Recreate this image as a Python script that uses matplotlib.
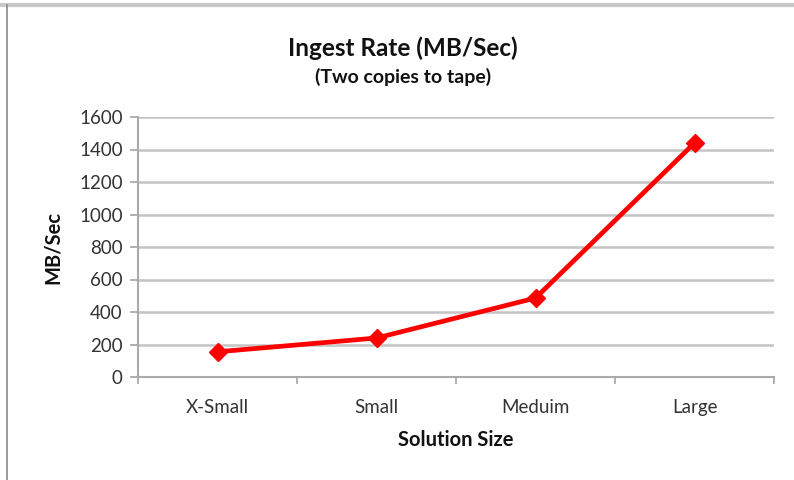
import matplotlib
matplotlib.use("Agg")
import matplotlib.pyplot as plt
from matplotlib.lines import Line2D

categories = ["X-Small", "Small", "Meduim", "Large"]
values = [155, 240, 486, 1440]
yticks = [0, 200, 400, 600, 800, 1000, 1200, 1400, 1600]

plt.rcParams['font.family'] = ['Lato', 'DejaVu Sans']

W, H = 794, 480
fig = plt.figure(figsize=(W / 100, H / 100), dpi=100)
ax = fig.add_axes([138 / W, 1 - 377 / H, (774 - 138) / W, (377 - 117) / H])

x = list(range(len(categories)))
ax.plot(x, values, color="#ff0000", lw=3.4, marker="D", markersize=9,
        markeredgecolor="#ff0000", markerfacecolor="#ff0000", zorder=3)

ax.set_xlim(-0.5, len(categories) - 0.5)
ax.set_ylim(0, 1600)
ax.set_yticks(yticks)
ax.set_yticklabels([str(v) for v in yticks])
ax.set_xticks(x)
ax.set_xticklabels(categories)
ax.tick_params(axis="x", length=0, pad=16, labelsize=13.5, labelcolor="#333333")
ax.tick_params(axis="y", length=6, width=1.3, color="#aaaaaa", pad=5,
               labelsize=13.5, labelcolor="#333333")
# boundary ticks on x axis
for b in [i - 0.5 for i in range(len(categories) + 1)]:
    ax.plot([b, b], [0, -1600 * 6 / 260], color="#aaaaaa", lw=1.3,
            clip_on=False, zorder=2)

ax.grid(axis="y", color="#c4c4c4", lw=1.8)
ax.set_axisbelow(True)
for s in ["top", "right"]:
    ax.spines[s].set_visible(False)
for s in ["left", "bottom"]:
    ax.spines[s].set_color("#aaaaaa")
    ax.spines[s].set_linewidth(1.5)

fig.text(456 / W, 1 - 440 / H, "Solution Size", ha="center", va="center",
         fontsize=14.5, fontweight="bold", color="#111111")
fig.text(53 / W, 1 - 247 / H, "MB/Sec", ha="center", va="center", rotation=90,
         fontsize=14.5, fontweight="bold", color="#111111")

fig.text(403 / W, 1 - 48 / H, "Ingest Rate (MB/Sec)", ha="center", va="center",
         fontsize=17.5, fontweight="bold", color="#111111")
fig.text(403 / W, 1 - 77 / H, "(Two copies to tape)", ha="center", va="center",
         fontsize=14, fontweight="bold", color="#111111")

# screenshot frame edges
fig.add_artist(Line2D([0, 1], [1 - 5 / H, 1 - 5 / H], color="#c8c8c8", lw=3,
                      transform=fig.transFigure))
fig.add_artist(Line2D([7 / W, 7 / W], [0, 1 - 5 / H], color="#8a8a8a", lw=1.2,
                      transform=fig.transFigure))

fig.savefig("out.png", dpi=100)
